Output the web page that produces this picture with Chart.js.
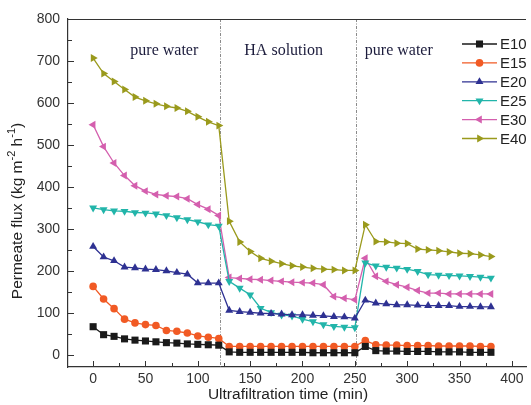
<!DOCTYPE html>
<html>
<head>
<meta charset="utf-8">
<script src="https://cdn.jsdelivr.net/npm/chart.js@4"></script>
<style>
  html, body { margin: 0; padding: 0; background: #fff; overflow: hidden; }
  #wrap { width: 531px; height: 405px; }
</style>
</head>
<body>
<div id="wrap"><canvas id="fluxChart"></canvas></div>
<script>
// --- data ---
const times = [0, 10, 20, 30, 40, 50, 60, 70, 80, 90, 100, 110, 120,
               130, 140, 150, 160, 170, 180, 190, 200, 210, 220, 230, 240, 250,
               260, 270, 280, 290, 300, 310, 320, 330, 340, 350, 360, 370, 380];

const e10 = [67, 48, 44, 38, 35, 33, 31, 29, 28, 26, 25, 24, 23,
             7, 6, 6, 6, 6, 6, 6, 6, 5, 5, 5, 5, 5,
             20, 10, 9, 9, 8, 8, 8, 7, 7, 7, 6, 6, 6];
const e15 = [163, 133, 110, 85, 76, 72, 70, 58, 56, 52, 45, 42, 39,
             20, 20, 20, 20, 20, 20, 20, 20, 20, 20, 20, 20, 20,
             34, 24, 23, 23, 22, 22, 22, 21, 21, 21, 21, 20, 20];
const e20 = [258, 233, 224, 209, 207, 204, 203, 200, 196, 192, 171, 171, 171,
             106, 103, 101, 99, 98, 97, 95, 95, 94, 93, 91, 90, 87,
             130, 123, 121, 119, 119, 118, 117, 117, 117, 115, 115, 114, 114];
const e25 = [350, 346, 343, 342, 339, 338, 336, 332, 327, 322, 317, 310, 307,
             175, 159, 143, 111, 101, 95, 93, 85, 79, 72, 68, 66, 65,
             219, 212, 209, 207, 204, 199, 191, 190, 189, 188, 187, 185, 183];
const e30 = [548, 496, 457, 427, 403, 390, 382, 379, 377, 372, 358, 347, 332,
             184, 182, 180, 179, 177, 175, 173, 172, 171, 167, 139, 135, 131,
             230, 187, 175, 167, 161, 153, 147, 147, 145, 145, 145, 145, 145];
const e40 = [707, 670, 651, 632, 614, 605, 598, 592, 588, 580, 567, 555, 546,
             318, 269, 246, 230, 223, 217, 212, 209, 206, 204, 203, 201, 201,
             310, 270, 269, 266, 265, 252, 250, 248, 245, 242, 241, 238, 234];

const seriesNames = ['E10', 'E15', 'E20', 'E25', 'E30', 'E40'];
const xTickValues = [0, 50, 100, 150, 200, 250, 300, 350, 400];
const yTickValues = [0, 100, 200, 300, 400, 500, 600, 700, 800];
const phaseBreaks = [121, 251];
const phaseLabels = [
  { text: 'pure water', x: 68 },
  { text: 'HA solution', x: 182 },
  { text: 'pure water', x: 292 }
];

// styling per series
const colors = ['#1a1a1a', '#f15a24', '#2e3192', '#22b5aa', '#d45fae', '#9a9a1c'];
const shapes = ['rect', 'circle', 'triangle', 'triangle', 'triangle', 'triangle'];
const rotations = [0, 0, 0, 180, 270, 90];
const radii = [5, 3.8, 4.6, 4.6, 4.6, 4.6];

const allSeries = [e10, e15, e20, e25, e30, e40];

const datasets = allSeries.map((vals, i) => ({
  label: seriesNames[i],
  data: vals.map((v, k) => ({ x: times[k], y: v })),
  borderColor: colors[i],
  backgroundColor: colors[i],
  borderWidth: 1.3,
  pointStyle: shapes[i],
  rotation: rotations[i],
  pointRadius: radii[i],
  pointBorderWidth: 0,
  tension: 0
}));

const FONT = "'Liberation Sans', Arial, sans-serif";

// text runs with optional superscript, drawn along the current x direction
function drawRuns(ctx, runs, cx, cy, size) {
  const supSize = Math.round(size * 0.68);
  let total = 0;
  runs.forEach(r => {
    ctx.font = (r.sup ? supSize : size) + 'px ' + FONT;
    r.w = ctx.measureText(r.t).width;
    total += r.w;
  });
  let xx = cx - total / 2;
  ctx.textAlign = 'left';
  ctx.textBaseline = 'middle';
  runs.forEach(r => {
    ctx.font = (r.sup ? supSize : size) + 'px ' + FONT;
    ctx.fillText(r.t, xx, r.sup ? cy - size * 0.38 : cy);
    xx += r.w;
  });
}

const framePlugin = {
  id: 'frameAndNotes',
  beforeDatasetsDraw(chart) {
    const { ctx, chartArea: { top, bottom, left, right }, scales: { x, y } } = chart;
    ctx.save();

    // phase separators
    ctx.strokeStyle = '#8a8a8a';
    ctx.lineWidth = 1;
    ctx.setLineDash([3, 1.5, 1, 1.5]);
    phaseBreaks.forEach(t => {
      const px = Math.round(x.getPixelForValue(t)) + 0.5;
      ctx.beginPath();
      ctx.moveTo(px, top);
      ctx.lineTo(px, bottom);
      ctx.stroke();
    });
    ctx.setLineDash([]);

    // phase labels
    ctx.font = "16px 'Liberation Serif', 'Times New Roman', serif";
    ctx.fillStyle = '#1c1c3c';
    ctx.textAlign = 'center';
    ctx.textBaseline = 'middle';
    phaseLabels.forEach(p => {
      ctx.fillText(p.text, x.getPixelForValue(p.x), 51);
    });

    // top frame line
    ctx.strokeStyle = '#333';
    ctx.lineWidth = 1.2;
    ctx.beginPath();
    ctx.moveTo(left, top + 0.5);
    ctx.lineTo(right, top + 0.5);
    ctx.stroke();

    // inward ticks
    ctx.lineWidth = 1;
    for (let v = -25; v <= 425; v += 25) {
      const px = x.getPixelForValue(v);
      if (px < left + 1 || px > right - 1) continue;
      const len = v % 50 === 0 ? 6 : 4;
      ctx.beginPath();
      ctx.moveTo(Math.round(px) + 0.5, bottom);
      ctx.lineTo(Math.round(px) + 0.5, bottom - len);
      ctx.stroke();
    }
    for (let v = 0; v <= 800; v += 50) {
      const py = y.getPixelForValue(v);
      const len = v % 100 === 0 ? 6 : 4;
      ctx.beginPath();
      ctx.moveTo(left, Math.round(py) + 0.5);
      ctx.lineTo(left + len, Math.round(py) + 0.5);
      ctx.stroke();
    }

    // axis titles
    ctx.fillStyle = '#222';
    drawRuns(ctx, [{ t: 'Ultrafiltration time (min)' }], 288, 395, 15.5);
    ctx.save();
    ctx.translate(18, 211);
    ctx.rotate(-Math.PI / 2);
    drawRuns(ctx, [
      { t: 'Permeate flux (kg m' }, { t: '-2', sup: true },
      { t: ' h' }, { t: '-1', sup: true }, { t: ')' }
    ], 0, 0, 15.5);
    ctx.restore();

    ctx.restore();
  },
  afterDraw(chart) {
    const { ctx } = chart;
    ctx.save();
    chart.data.datasets.forEach((ds, i) => {
      const cy = 44 + i * 18.9;
      ctx.strokeStyle = ds.borderColor;
      ctx.lineWidth = 1.3;
      ctx.beginPath();
      ctx.moveTo(462, cy);
      ctx.lineTo(497, cy);
      ctx.stroke();
      ctx.fillStyle = ds.backgroundColor;
      Chart.helpers.drawPoint(ctx, {
        pointStyle: ds.pointStyle,
        rotation: ds.rotation,
        radius: ds.pointRadius,
        borderWidth: 0
      }, 479.5, cy);
      ctx.fillStyle = '#222';
      ctx.font = '15px ' + FONT;
      ctx.textAlign = 'left';
      ctx.textBaseline = 'middle';
      ctx.fillText(ds.label, 500, cy + 1);
    });
    ctx.restore();
  }
};

new Chart(document.getElementById('fluxChart'), {
  type: 'line',
  data: { datasets },
  options: {
    responsive: true,
    maintainAspectRatio: false,
    animation: false,
    layout: { padding: { top: 19, right: 0, bottom: 0, left: 0 } },
    plugins: {
      legend: { display: false },
      tooltip: { enabled: false }
    },
    scales: {
      x: {
        type: 'linear',
        min: -24,
        max: 413.5,
        afterBuildTicks: s => { s.ticks = xTickValues.map(v => ({ value: v })); },
        afterFit: s => { s.height = 38; },
        grid: { display: false, drawTicks: false },
        border: { display: true, color: '#333', width: 1.2 },
        ticks: { padding: 4, color: '#333', font: { family: FONT, size: 14 } }
      },
      y: {
        min: -29,
        max: 800,
        afterBuildTicks: s => { s.ticks = yTickValues.map(v => ({ value: v })); },
        afterFit: s => { s.width = 68; },
        grid: { display: false, drawTicks: false },
        border: { display: true, color: '#333', width: 1.2 },
        ticks: { padding: 8, color: '#333', font: { family: FONT, size: 14 } }
      }
    }
  },
  plugins: [framePlugin]
});
</script>
</body>
</html>
